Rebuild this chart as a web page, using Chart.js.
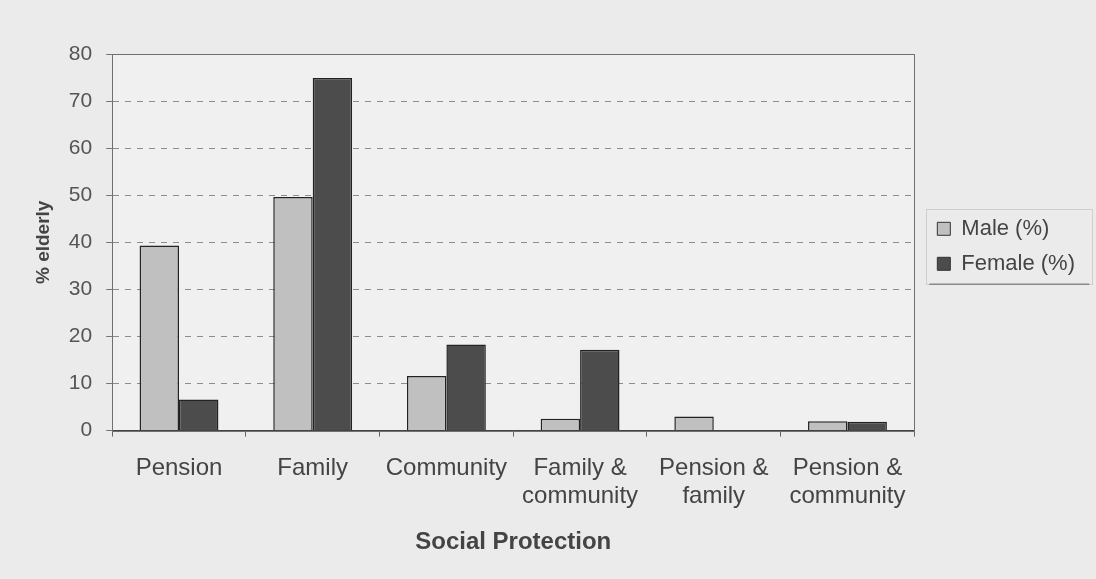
<!DOCTYPE html>
<html><head><meta charset="utf-8">
<script src="https://cdn.jsdelivr.net/npm/chart.js@4/dist/chart.umd.min.js"></script>
<style>html,body{margin:0;padding:0;background:#ebebeb;}#wrap{width:1096px;height:579px;}</style>
</head><body><div id="wrap"><canvas id="c" width="1096" height="579"></canvas></div>
<script>
const categories = [["Pension"],["Family"],["Community"],["Family &","community"],["Pension &","family"],["Pension &","community"]];
const maleValues = [39.3, 49.6, 11.6, 2.5, 3.0, 2.0];
const femaleValues = [6.6, 74.9, 18.3, 17.2, 0, 1.9];
const yTicks = [0,10,20,30,40,50,60,70,80];

const plotBg = {
  id:'plotBg',
  afterLayout(chart){
    const lg = chart.legend;
    lg.left += 10; lg.right += 10;
    lg.top += 4; lg.bottom += 4;
  },
  beforeDraw(chart){
    const {ctx, chartArea:a} = chart;
    ctx.save();
    ctx.fillStyle='#ebebeb';ctx.fillRect(0,0,chart.width,chart.height);
    ctx.fillStyle='#f0f0f0';ctx.fillRect(a.left,a.top,a.right-a.left,a.bottom-a.top);
    ctx.restore();
  },
  afterDraw(chart){
    const {ctx, chartArea:a} = chart;
    ctx.save();
    ctx.setLineDash([]);
    ctx.strokeStyle='#707070';ctx.lineWidth=1;
    ctx.strokeRect(Math.round(a.left)+0.5,Math.round(a.top)+0.5,Math.round(a.right-a.left),Math.round(a.bottom-a.top));
    const hb = chart.legend.legendHitBoxes;
    if(hb && hb.length){
      const l = Math.min(...hb.map(h=>h.left))-11;
      const r = l + 166;
      const t = Math.min(...hb.map(h=>h.top))-9;
      const b = Math.max(...hb.map(h=>h.top+h.height))+9;
      ctx.strokeStyle='#cfcfcf';
      ctx.strokeRect(Math.round(l)+0.5,Math.round(t)+0.5,Math.round(r-l),Math.round(b-t));
      ctx.strokeStyle='#8a8a8a';ctx.lineWidth=1.5;
      ctx.beginPath();ctx.moveTo(l+3,b+0.5);ctx.lineTo(r-3,b+0.5);ctx.stroke();
    }
    ctx.restore();
  }
};

new Chart(document.getElementById('c'),{
  type:'bar',
  data:{labels:categories,datasets:[
    {label:'Male (%)',data:maleValues,backgroundColor:'#c0c0c0',borderColor:'#222',borderWidth:1.5},
    {label:'Female (%)',data:femaleValues,backgroundColor:'#4c4c4c',borderColor:'#222',borderWidth:1.5}
  ]},
  options:{
    responsive:false,animation:false,
    layout:{padding:{top:54,left:14,right:21,bottom:18}},
    categoryPercentage:0.59,barPercentage:1.0,
    plugins:{
      legend:{position:'right',align:'center',fullSize:false,
        labels:{font:{family:'Liberation Sans',size:22},color:'#444',boxWidth:13,boxHeight:13,padding:13,
          generateLabels(chart){
            return chart.data.datasets.map((d,i)=>({text:d.label,fillStyle:d.backgroundColor,strokeStyle:'#333',lineWidth:1,datasetIndex:i,fontColor:'#444'}));
          }}},
      tooltip:{enabled:false}
    },
    scales:{
      x:{grid:{display:true,offset:true,drawOnChartArea:false,tickLength:6,color:'#666'},border:{color:'#444'},
        ticks:{font:{family:'Liberation Sans',size:24},color:'#444',padding:17},
        title:{display:true,text:'Social Protection',font:{family:'Liberation Sans',size:24,weight:'bold'},color:'#444',padding:{top:0,bottom:4}}},
      y:{min:0,max:80,afterBuildTicks(s){s.ticks=yTicks.map(v=>({value:v}));},
        grid:{color:'#8c8c8c',tickLength:6,drawTicks:true,tickColor:'#777',tickBorderDash:[]},border:{dash:[6,6],color:'#666'},
        ticks:{font:{family:'Liberation Sans',size:21},color:'#555',padding:14},
        title:{display:true,text:'% elderly',font:{family:'Liberation Sans',size:19,weight:'bold'},color:'#444',padding:{top:18,bottom:0}}}
    }
  },
  plugins:[plotBg]
});
</script></body></html>
